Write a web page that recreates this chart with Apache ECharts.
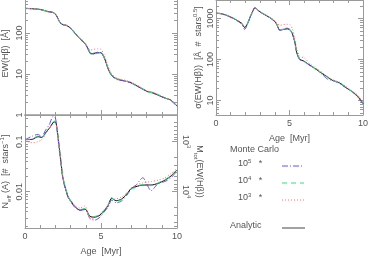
<!DOCTYPE html>
<html><head><meta charset="utf-8">
<script src="https://cdn.jsdelivr.net/npm/echarts@6/dist/echarts.min.js"></script>
<style>html,body{margin:0;padding:0;background:#fff}#c{width:369px;height:257px}</style>
</head><body><div id="c"></div>
<script>
// ---------- data ----------
const ewAge      = [0, 0.5, 1.0, 1.5, 1.8, 2.0, 2.15, 2.3, 2.5, 2.7, 2.9, 3.1, 3.3, 3.5, 3.7, 3.9, 4.1, 4.3, 4.5, 4.8, 5.0, 5.2, 5.4, 5.6, 5.8, 6.1, 6.5, 6.9, 7.2, 7.6, 8.0, 8.4, 8.8, 9.2, 9.6, 10];
const ewAnalytic = [400, 390, 375, 335, 320, 290, 235, 180, 160, 155, 140, 120, 98, 80, 68, 58, 45, 32, 31, 33, 33, 26, 16, 10.5, 8.5, 7.4, 6.8, 6.3, 5.5, 4.6, 3.8, 3.5, 3.0, 2.6, 2.3, 1.65];
const ewMC5      = [398, 388, 372, 330, 318, 285, 230, 178, 158, 152, 142, 118, 96, 82, 66, 57, 44, 31, 32, 34, 33, 25, 15.5, 10.2, 8.6, 7.2, 6.9, 6.1, 5.6, 4.5, 3.9, 3.4, 3.0, 2.6, 2.25, 1.6];
const ewMC4      = [401, 392, 376, 338, 322, 292, 238, 182, 161, 156, 138, 121, 99, 79, 69, 59, 46, 33, 31, 32, 34, 26, 16.5, 10.8, 8.4, 7.5, 6.7, 6.4, 5.4, 4.7, 3.7, 3.5, 3.1, 2.6, 2.3, 1.7];
const ewMC3      = [402, 392, 378, 340, 322, 295, 240, 185, 163, 158, 143, 124, 100, 85, 72, 60, 48, 38, 40, 41, 40, 30, 18, 11.5, 9.2, 7.8, 7.2, 6.5, 5.8, 4.8, 3.9, 3.6, 3.1, 2.7, 2.35, 1.7];

const sgAge      = [0, 0.4, 0.8, 1.2, 1.5, 1.75, 1.95, 2.15, 2.35, 2.5, 2.65, 2.8, 3.0, 3.3, 3.6, 3.9, 4.1, 4.35, 4.6, 4.85, 5.05, 5.2, 5.35, 5.5, 5.7, 6.0, 6.4, 6.8, 7.2, 7.6, 8.0, 8.4, 8.8, 9.2, 9.6, 10];
const sgAnalytic = [1350, 1300, 1170, 1000, 870, 760, 600, 760, 1150, 1500, 1850, 1650, 1450, 1250, 1080, 920, 760, 520, 540, 560, 520, 420, 280, 145, 102, 90, 72, 58, 46, 37, 30, 27, 21, 17, 13, 8.5];
const sgMC5      = [1340, 1290, 1150, 980, 850, 730, 540, 740, 1130, 1480, 1830, 1640, 1430, 1240, 1070, 900, 740, 510, 560, 580, 530, 410, 270, 140, 98, 92, 70, 59, 44, 33, 31, 26, 21, 17.5, 12.5, 8.3];
const sgMC4      = [1360, 1310, 1180, 1010, 880, 770, 620, 770, 1160, 1510, 1860, 1660, 1460, 1260, 1090, 930, 770, 530, 545, 565, 525, 425, 285, 148, 104, 88, 73, 57, 47, 36, 30, 27, 22, 17, 13.5, 8.7];
const sgMC3      = [1370, 1320, 1190, 1020, 890, 780, 630, 780, 1170, 1520, 1880, 1670, 1470, 1280, 1100, 950, 800, 680, 710, 720, 700, 560, 330, 180, 120, 110, 78, 62, 49, 38, 31, 28, 22.5, 17.5, 14, 9];

const neAge      = [0, 0.5, 0.85, 1.1, 1.35, 1.6, 1.85, 2.0, 2.12, 2.25, 2.35, 2.48, 2.63, 2.85, 3.05, 3.3, 3.6, 3.95, 4.28, 4.6, 4.93, 5.25, 5.48, 5.7, 6.0, 6.35, 6.7, 7.0, 7.3, 7.75, 8.3, 8.75, 9.2, 9.6, 10];
const neAnalytic = [0.11, 0.112, 0.126, 0.122, 0.15, 0.185, 0.24, 0.25, 0.17, 0.079, 0.043, 0.02, 0.0126, 0.0077, 0.0063, 0.005, 0.0043, 0.0045, 0.0032, 0.0031, 0.0034, 0.0043, 0.0054, 0.0074, 0.0066, 0.0071, 0.009, 0.0117, 0.0126, 0.0136, 0.0136, 0.0147, 0.017, 0.0206, 0.027];
const neMC5      = [0.11, 0.13, 0.14, 0.125, 0.17, 0.22, 0.32, 0.3, 0.16, 0.07, 0.04, 0.019, 0.012, 0.0075, 0.006, 0.0048, 0.0042, 0.0044, 0.0029, 0.0027, 0.0031, 0.0041, 0.005, 0.0068, 0.006, 0.0065, 0.0085, 0.0115, 0.0135, 0.019, 0.0105, 0.0145, 0.016, 0.019, 0.026];
const neMC4      = [0.11, 0.115, 0.13, 0.12, 0.155, 0.19, 0.25, 0.26, 0.17, 0.08, 0.044, 0.021, 0.013, 0.0079, 0.0062, 0.0051, 0.0044, 0.0046, 0.0031, 0.0032, 0.0035, 0.0044, 0.0056, 0.0076, 0.0064, 0.0069, 0.0092, 0.0112, 0.0122, 0.014, 0.0132, 0.015, 0.0175, 0.021, 0.028];
const neMC3      = [0.105, 0.095, 0.1, 0.11, 0.14, 0.19, 0.22, 0.23, 0.16, 0.08, 0.044, 0.021, 0.013, 0.008, 0.0066, 0.0052, 0.0047, 0.0052, 0.0028, 0.003, 0.0036, 0.0045, 0.0055, 0.0068, 0.0072, 0.0078, 0.0095, 0.012, 0.0135, 0.015, 0.016, 0.017, 0.019, 0.023, 0.029];

const legendLabels = ['5', '4', '3'];

// ---------- styling ----------
const AX = '#9a9a9a', LBL = '#555', FONT = 'Liberation Sans';
const COL = {a: '#000000', m5: '#6b4fe0', m4: '#2fe07a', m3: '#ff7070'};
const DASH = {a: 'solid', m5: [6, 2, 1, 2], m4: [5, 4], m3: [1, 2]};

function isPow10(v) { const l = Math.log10(v); return Math.abs(l - Math.round(l)) < 1e-6; }
function minorVals(min, max) {
  const out = [];
  for (let e = Math.floor(Math.log10(min)); e <= Math.ceil(Math.log10(max)); e++) {
    for (let k = 2; k <= 9; k++) {
      const v = k * Math.pow(10, e);
      if (v > min && v < max) out.push(+v.toPrecision(6));
    }
  }
  return out;
}
function majorVals(min, max) {
  const out = [];
  for (let e = Math.ceil(Math.log10(min) - 1e-9); e <= Math.floor(Math.log10(max) + 1e-9); e++) out.push(+Math.pow(10, e).toPrecision(6));
  return out;
}
const richText = {
  n: {fontSize: 9, fontFamily: FONT, color: LBL, lineHeight: 13},
  sup: {fontSize: 6, fontFamily: FONT, color: LBL, verticalAlign: 'top'},
  sub: {fontSize: 6, fontFamily: FONT, color: LBL, verticalAlign: 'bottom'}
};

function xAxes(gi, showLabels, bottomWidth) {
  const base = {
    gridIndex: gi, type: 'value', min: 0, max: 10, interval: 5,
    axisLine: {show: true, onZero: false, lineStyle: {color: AX, width: 1}},
    axisTick: {show: true, inside: true, length: 5, lineStyle: {color: AX}},
    minorTick: {show: true, splitNumber: 5, length: 3, lineStyle: {color: AX}},
    splitLine: {show: false}, minorSplitLine: {show: false}
  };
  return [
    Object.assign({}, base, {
      position: 'bottom',
      axisLine: {show: true, onZero: false, lineStyle: {color: bottomWidth > 1 ? '#b4b4b4' : AX, width: bottomWidth}},
      axisLabel: {show: showLabels, margin: 4, color: LBL, fontSize: 9, fontFamily: FONT},
      name: showLabels ? 'Age  [Myr]' : '', nameLocation: 'middle', nameGap: 19,
      nameTextStyle: {color: LBL, fontSize: 9, fontFamily: FONT, verticalAlign: 'top'}
    }),
    Object.assign({}, base, {position: 'top', axisLabel: {show: false}})
  ];
}

function logAxis(gi, min, max, pos, major, extra) {
  const a = {
    gridIndex: gi, type: 'log', min: min, max: max, position: pos,
    axisLine: {show: major, onZero: false, lineStyle: {color: AX, width: 1}},
    axisTick: {show: true, inside: true, length: major ? 5 : 3, lineStyle: {color: AX},
               customValues: major ? majorVals(min, max) : minorVals(min, max)},
    axisLabel: {show: false},
    splitLine: {show: false}
  };
  return Object.assign(a, extra || {});
}

const yLab = (min, max, fmt) => ({show: true, rotate: 90, margin: 1, color: LBL, fontSize: 9, fontFamily: FONT,
  customValues: majorVals(min, max), formatter: fmt || (v => (isPow10(v) ? String(+v.toPrecision(3)) : ''))});

const P0 = {min: 1, max: 1000};
const P1 = {min: 4.43, max: 2825};
const P2 = {min: 0.00188, max: 0.342};
const M2 = {min: 100 / P2.max, max: 100 / P2.min};

const yAxis = [
  // panel 0 (EW)
  logAxis(0, P0.min, P0.max, 'left', true, {
    axisLabel: yLab(P0.min, 999),
    name: 'EW(Hβ)  [Å]', nameLocation: 'middle', nameRotate: 90, nameGap: 15,
    nameTextStyle: {color: LBL, fontSize: 9, fontFamily: FONT}
  }),
  logAxis(0, P0.min, P0.max, 'left', false),
  logAxis(0, P0.min, P0.max, 'right', true),
  logAxis(0, P0.min, P0.max, 'right', false),
  // panel 1 (sigma)
  logAxis(1, P1.min, P1.max, 'left', true, {
    axisLabel: yLab(P1.min, P1.max),
    name: '{n|σ(EW(Hβ))  [Å  #  stars}{sup|0.5}{n|]}', nameLocation: 'middle', nameRotate: 90, nameGap: 11,
    nameTextStyle: {rich: richText}
  }),
  logAxis(1, P1.min, P1.max, 'left', false),
  logAxis(1, P1.min, P1.max, 'right', true),
  logAxis(1, P1.min, P1.max, 'right', false),
  // panel 2 (N_eff)
  logAxis(2, P2.min, P2.max, 'left', true, {
    axisLabel: yLab(P2.min, P2.max),
    name: '{n|N}{sub|eff}{n| (A)  [#  stars}{sup|−1}{n|]}', nameLocation: 'middle', nameRotate: 90, nameGap: 13,
    nameTextStyle: {rich: richText}
  }),
  logAxis(2, P2.min, P2.max, 'left', false),
  logAxis(2, M2.min, M2.max, 'right', true, {
    inverse: true,
    axisLabel: {show: true, rotate: -90, margin: 2, customValues: majorVals(M2.min, M2.max),
      formatter: v => (isPow10(v) ? '{n|10}{sup|' + Math.round(Math.log10(v)) + '}' : ''), rich: richText},
    name: '{n|M}{sub|tot}{n|(EW(Hβ))}', nameLocation: 'middle', nameRotate: -90, nameGap: 11,
    nameTextStyle: {rich: richText}
  }),
  logAxis(2, M2.min, M2.max, 'right', false, {inverse: true})
];

const xAxis = [].concat(xAxes(0, false, 2), xAxes(1, true, 1), xAxes(2, true, 1));

function mk(xs, ys, xi, yi, key) {
  return {
    type: 'line', xAxisIndex: xi, yAxisIndex: yi, data: xs.map((x, i) => [x, ys[i]]),
    symbol: 'none', smooth: 0.25, silent: true, clip: true,
    lineStyle: {color: COL[key], width: 1, type: DASH[key]}
  };
}
const series = [
  mk(ewAge, ewAnalytic, 0, 0, 'a'), mk(ewAge, ewMC5, 0, 0, 'm5'), mk(ewAge, ewMC4, 0, 0, 'm4'), mk(ewAge, ewMC3, 0, 0, 'm3'),
  mk(sgAge, sgAnalytic, 2, 4, 'a'), mk(sgAge, sgMC5, 2, 4, 'm5'), mk(sgAge, sgMC4, 2, 4, 'm4'), mk(sgAge, sgMC3, 2, 4, 'm3'),
  mk(neAge, neAnalytic, 4, 8, 'a'), mk(neAge, neMC5, 4, 8, 'm5'), mk(neAge, neMC4, 4, 8, 'm4'), mk(neAge, neMC3, 4, 8, 'm3')
];

// legend drawn as graphic
const legRich = {
  b: {fontSize: 9, fontFamily: FONT, fill: LBL, lineHeight: 12},
  s: {fontSize: 6, fontFamily: FONT, fill: LBL, verticalAlign: 'top'}
};
const graphic = [
  {type: 'text', left: 230, top: 145, style: {text: 'Monte Carlo', fill: LBL, font: '9px ' + FONT}},
];
const legKeys = ['m5', 'm4', 'm3'];
const legY = [165, 182, 199];
legKeys.forEach((k, i) => {
  graphic.push({type: 'text', left: 238, top: legY[i] - 7, style: {text: '{b|10}{s|' + legendLabels[i] + '}{b|   *}', rich: legRich}});
  graphic.push({type: 'line', shape: {x1: 282, y1: legY[i] + 1, x2: 304, y2: legY[i] + 1},
    style: {stroke: COL[k], lineWidth: 1, lineDash: DASH[k]}});
});
graphic.push({type: 'text', left: 230, top: 221, style: {text: 'Analytic', fill: LBL, font: '9px ' + FONT}});
graphic.push({type: 'line', shape: {x1: 282, y1: 228, x2: 305, y2: 228}, style: {stroke: '#444', lineWidth: 1}});

const chart = echarts.init(document.getElementById('c'), null, {renderer: 'canvas'});
chart.setOption({
  animation: false,
  backgroundColor: '#fff',
  grid: [
    {left: 25, top: -8, width: 152, height: 123, containLabel: false, outerBoundsMode: 'none'},
    {left: 216, top: 0, width: 147, height: 115, containLabel: false, outerBoundsMode: 'none'},
    {left: 25, top: 115, width: 152, height: 113, containLabel: false, outerBoundsMode: 'none'}
  ],
  xAxis: xAxis,
  yAxis: yAxis,
  series: series,
  graphic: graphic
});
</script></body></html>
